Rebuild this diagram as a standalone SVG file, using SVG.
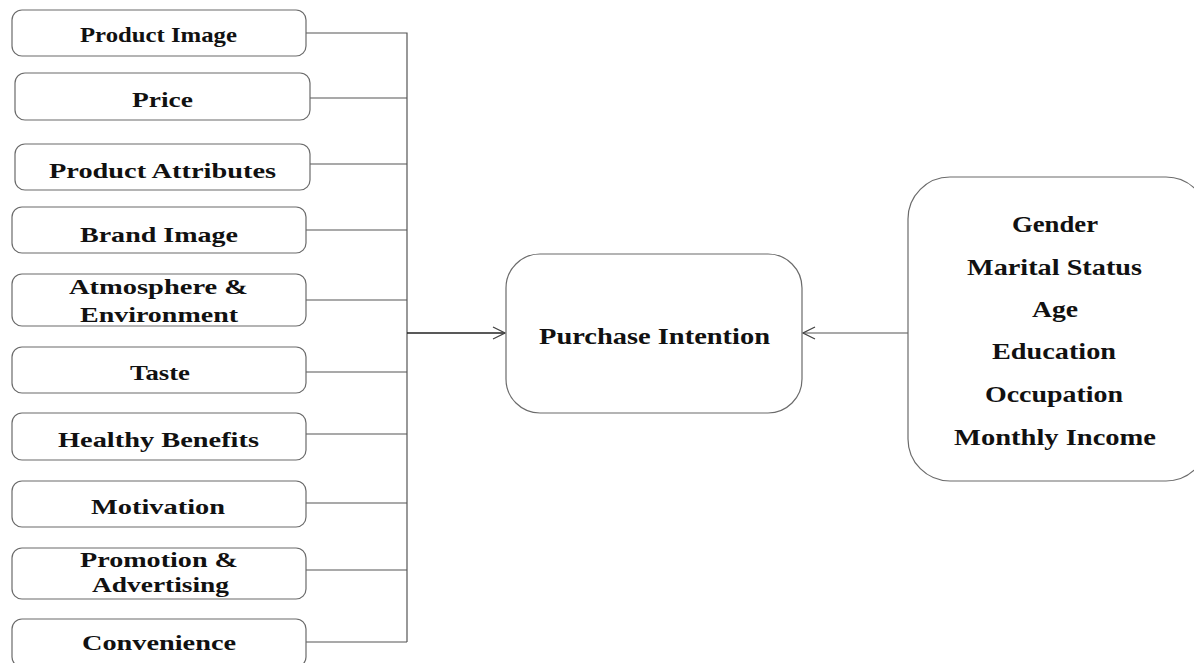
<svg xmlns="http://www.w3.org/2000/svg" width="1194" height="663" viewBox="0 0 1194 663">
<style>
.box{fill:#fff;stroke:#6b6b6b;stroke-width:1.2}
.t{font-family:"Liberation Serif","Times New Roman",serif;font-weight:bold;fill:#111;font-size:22px}
.big{font-size:24px}
.c{stroke:#555;stroke-width:1.2;fill:none}
.m{stroke:#222;stroke-width:1.5;fill:none}
</style>
<defs>
<marker id="arr" markerWidth="14" markerHeight="14" refX="13" refY="7" orient="auto" markerUnits="userSpaceOnUse">
<path d="M1,1 L13,7 L1,13" fill="none" stroke="#444" stroke-width="1.3"/>
</marker>
</defs>
<rect width="1194" height="663" fill="#fff"/>
<g id="connectors">
<path class="c" d="M306,33 H407 V642"/>
<path class="c" d="M310,98 H407"/>
<path class="c" d="M310,164 H407"/>
<path class="c" d="M306,230 H407"/>
<path class="c" d="M306,300 H407"/>
<path class="c" d="M306,372 H407"/>
<path class="c" d="M306,434 H407"/>
<path class="c" d="M306,503 H407"/>
<path class="c" d="M306,570 H407"/>
<path class="c" d="M306,642 H407"/>
<path class="m" d="M407,333 H505" marker-end="url(#arr)"/>
<path class="c" d="M908,333 H803" marker-end="url(#arr)"/>
</g>
<g id="product-image"><rect class="box" x="12" y="10" width="294" height="46" rx="10"/><text class="t" x="80" y="42" textLength="157" lengthAdjust="spacingAndGlyphs">Product Image</text></g>
<g id="price"><rect class="box" x="15" y="73" width="295" height="47" rx="10"/><text class="t" x="132" y="107" textLength="61" lengthAdjust="spacingAndGlyphs">Price</text></g>
<g id="product-attributes"><rect class="box" x="15" y="144" width="295" height="46" rx="10"/><text class="t" x="49" y="178" textLength="227" lengthAdjust="spacingAndGlyphs">Product Attributes</text></g>
<g id="brand-image"><rect class="box" x="12" y="207" width="294" height="46" rx="10"/><text class="t" x="80" y="242" textLength="158" lengthAdjust="spacingAndGlyphs">Brand Image</text></g>
<g id="atmosphere"><rect class="box" x="12" y="274" width="294" height="52" rx="10"/><text class="t" x="69" y="294" textLength="179" lengthAdjust="spacingAndGlyphs">Atmosphere &amp;</text><text class="t" x="80" y="322" textLength="158" lengthAdjust="spacingAndGlyphs">Environment</text></g>
<g id="taste"><rect class="box" x="12" y="347" width="294" height="46" rx="10"/><text class="t" x="130" y="380" textLength="60" lengthAdjust="spacingAndGlyphs">Taste</text></g>
<g id="healthy-benefits"><rect class="box" x="12" y="413" width="294" height="47" rx="10"/><text class="t" x="58" y="447" textLength="201" lengthAdjust="spacingAndGlyphs">Healthy Benefits</text></g>
<g id="motivation"><rect class="box" x="12" y="481" width="294" height="46" rx="10"/><text class="t" x="91" y="514" textLength="134" lengthAdjust="spacingAndGlyphs">Motivation</text></g>
<g id="promotion"><rect class="box" x="12" y="548" width="294" height="51" rx="10"/><text class="t" x="80" y="567" textLength="158" lengthAdjust="spacingAndGlyphs">Promotion &amp;</text><text class="t" x="92" y="592" textLength="137" lengthAdjust="spacingAndGlyphs">Advertising</text></g>
<g id="convenience"><rect class="box" x="12" y="619" width="294" height="48" rx="10"/><text class="t" x="82" y="650" textLength="154" lengthAdjust="spacingAndGlyphs">Convenience</text></g>
<g id="purchase-intention"><rect class="box" x="506" y="254" width="296" height="159" rx="34"/><text class="t big" x="539" y="344" textLength="231" lengthAdjust="spacingAndGlyphs">Purchase Intention</text></g>
<g id="demographics"><rect class="box" x="908" y="177" width="300" height="304" rx="42"/>
<text class="t big" x="1012" y="232" textLength="86" lengthAdjust="spacingAndGlyphs">Gender</text>
<text class="t big" x="967" y="275" textLength="175" lengthAdjust="spacingAndGlyphs">Marital Status</text>
<text class="t big" x="1032" y="317" textLength="46" lengthAdjust="spacingAndGlyphs">Age</text>
<text class="t big" x="992" y="359" textLength="124" lengthAdjust="spacingAndGlyphs">Education</text>
<text class="t big" x="985" y="402" textLength="138" lengthAdjust="spacingAndGlyphs">Occupation</text>
<text class="t big" x="954" y="445" textLength="202" lengthAdjust="spacingAndGlyphs">Monthly Income</text>
</g>
</svg>
